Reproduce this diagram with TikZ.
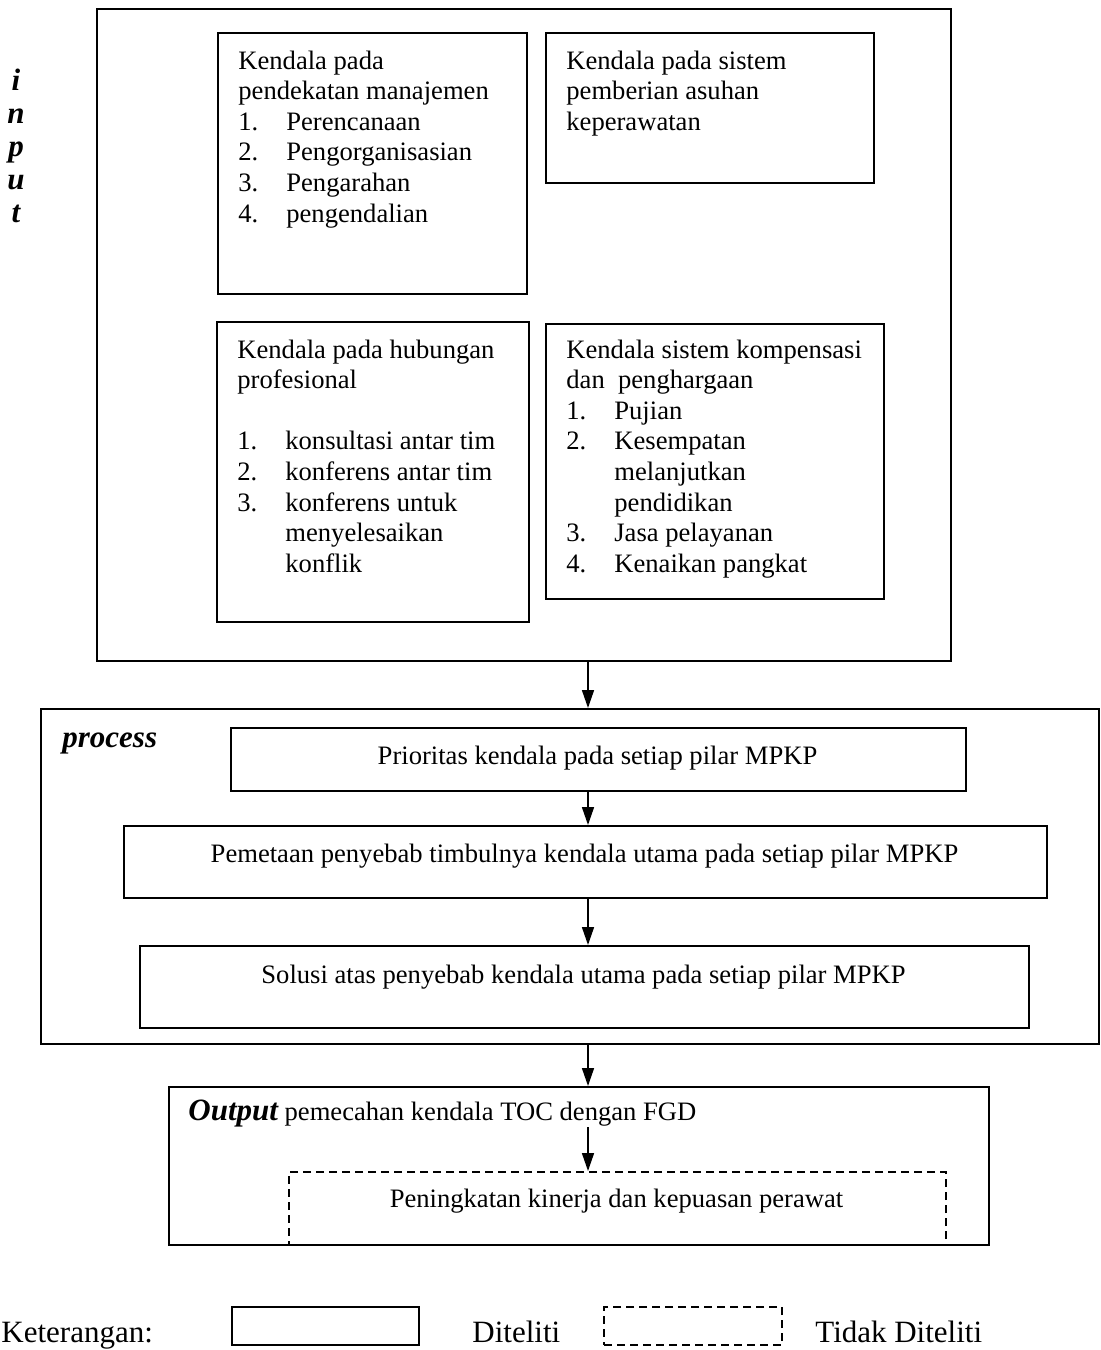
\documentclass[tikz,border=0pt]{standalone}
\usepackage{fontspec}
\setmainfont{Liberation Serif}
\usetikzlibrary{arrows.meta}
\newcommand{\nf}{\fontsize{13.3}{15.3}\selectfont}
\newcommand{\bigf}{\fontsize{15.5}{16}\selectfont}
\newcommand{\letf}{\fontsize{15.5}{16.5}\selectfont}
\newcommand{\numit}[2]{\makebox[24pt][l]{#1}#2}
\newcommand{\contit}[1]{\hspace*{24pt}#1}
\begin{document}
\begin{tikzpicture}[x=0.5pt,y=-0.5pt,
  box/.style={draw, line width=1pt, anchor=north west, inner sep=0pt},
  dbox/.style={box, dash pattern=on 4pt off 2.5pt},
  txt/.style={inner sep=0pt, font=\nf},
  big/.style={inner sep=0pt, font=\bigf\bfseries\itshape},
  leg/.style={inner sep=0pt, font=\bigf},
  arr/.style={line width=0.8pt, -{Triangle[length=9pt,width=6pt]}}]
\useasboundingbox (0,0) rectangle (1100,1350);
\coordinate (ax) at (588,0);

% input section
\node[box, minimum width=427pt, minimum height=326pt] (inp) at (96,8) {};
\node[inner sep=0pt, font=\letf\bfseries\itshape, anchor=base] (inl) at (16,90) {\begin{tabular}[t]{@{}c@{}}i\\n\\p\\u\\t\end{tabular}};

\node[box, minimum width=154.5pt, minimum height=130.5pt] (A) at (217,32) {};
\node[txt, anchor=base west] (At) at (238,69) {\begin{tabular}[t]{@{}l@{}}
Kendala pada\\
pendekatan manajemen\\
\numit{1.}{Perencanaan}\\
\numit{2.}{Pengorganisasian}\\
\numit{3.}{Pengarahan}\\
\numit{4.}{pengendalian}
\end{tabular}};

\node[box, minimum width=164pt, minimum height=75pt] (B) at (545,32) {};
\node[txt, anchor=base west] (Bt) at (566,69) {\begin{tabular}[t]{@{}l@{}}
Kendala pada sistem\\
pemberian asuhan\\
keperawatan
\end{tabular}};

\node[box, minimum width=156pt, minimum height=150pt] (C) at (216,321) {};
\node[txt, anchor=base west] (Ct) at (237,358) {\begin{tabular}[t]{@{}l@{}}
Kendala pada hubungan\\
profesional\\
\mbox{}\\
\numit{1.}{konsultasi antar tim}\\
\numit{2.}{konferens antar tim}\\
\numit{3.}{konferens untuk}\\
\contit{menyelesaikan}\\
\contit{konflik}
\end{tabular}};

\node[box, minimum width=169pt, minimum height=137.5pt] (D) at (545,323) {};
\node[txt, anchor=base west] (Dt) at (566,358) {\begin{tabular}[t]{@{}l@{}}
Kendala sistem kompensasi\\
dan~ penghargaan\\
\numit{1.}{Pujian}\\
\numit{2.}{Kesempatan}\\
\contit{melanjutkan}\\
\contit{pendidikan}\\
\numit{3.}{Jasa pelayanan}\\
\numit{4.}{Kenaikan pangkat}
\end{tabular}};

% process section
\node[box, minimum width=529pt, minimum height=167.5pt] (proc) at (40,708) {};
\node[big, anchor=base west] (proct) at (62,747) {process};

\node[box, minimum width=367.5pt, minimum height=31.5pt] (P1) at (230,727) {};
\node[txt, anchor=base] (P1t) at (597.5,764) {Prioritas kendala pada setiap pilar MPKP};

\node[box, minimum width=461.5pt, minimum height=36pt] (P2) at (123,825) {};
\node[txt, anchor=base] (P2t) at (584.5,862) {Pemetaan penyebab timbulnya kendala utama pada setiap pilar MPKP};

\node[box, minimum width=444.5pt, minimum height=41pt] (P3) at (139,945) {};
\node[txt, anchor=base] (P3t) at (583.5,983) {Solusi atas penyebab kendala utama pada setiap pilar MPKP};

% output section
\node[box, minimum width=410pt, minimum height=79pt] (out) at (168,1086) {};
\node[txt, anchor=base west] (outt) at (188,1120) {{\bigf\bfseries\itshape Output} pemecahan kendala TOC dengan FGD};
\node[dbox, minimum width=328.5pt, minimum height=36.5pt] (dsh) at (288,1171) {};
\node[txt, anchor=base] (dsht) at (616.5,1207) {Peningkatan kinerja dan kepuasan perawat};

% connectors
\draw[arr] (inp.south -| ax) -- (proc.north -| ax);
\draw[arr] (P1.south -| ax) -- (P2.north -| ax);
\draw[arr] (P2.south -| ax) -- (P3.north -| ax);
\draw[arr] (proc.south -| ax) -- (out.north -| ax);
\draw[arr] (outt.south -| ax) -- (dsh.north -| ax);

% legend
\node[leg, anchor=base west] (ket) at (1,1342) {Keterangan:};
\node[box, minimum width=93.5pt, minimum height=19pt] (lsolid) at (231,1306) {};
\node[leg, anchor=base west] (ldit) at (472,1342) {Diteliti};
\node[dbox, minimum width=89pt, minimum height=19pt] (ldash) at (603,1306) {};
\node[leg, anchor=base west] (ltdk) at (815,1342) {Tidak Diteliti};
\end{tikzpicture}
\end{document}
